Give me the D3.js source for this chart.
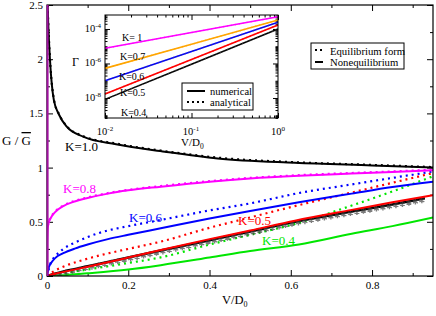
<!DOCTYPE html>
<html>
<head>
<meta charset="utf-8">
<script src="https://cdn.jsdelivr.net/npm/d3@7"></script>
<style>
  body { margin: 0; background: #fff; }
  svg text { font-family: "Liberation Serif", "Times New Roman", serif; }
  .axis path, .axis line { stroke: #000; }
</style>
</head>
<body>
<script>
var W = 436, H = 316;
var SERIF = '"Liberation Serif", "Times New Roman", serif';

// main panel: [V/D0, G/Gbar]
var k10Solid = [[0.0015,2.5],[0.003,2.33],[0.0074,1.99],[0.017,1.62],[0.03,1.485],[0.048,1.38],[0.089,1.285],[0.17,1.215],[0.29,1.147],[0.42,1.085],[0.61,1.045],[0.8,1.02],[0.95,1.0]];
var k10Dots  = [[0.0016,2.5],[0.003,2.34],[0.0074,2.0],[0.017,1.63],[0.03,1.49],[0.048,1.385],[0.089,1.29],[0.17,1.222],[0.29,1.152],[0.42,1.092],[0.61,1.05],[0.8,1.025],[0.95,1.005]];
var k08Solid = [[0,0],[0.0005,0.3],[0.002,0.45],[0.005,0.5],[0.01,0.54],[0.02,0.59],[0.04,0.645],[0.07,0.69],[0.1,0.72],[0.15,0.76],[0.2,0.79],[0.28,0.824],[0.4,0.87],[0.5,0.9],[0.62,0.925],[0.75,0.945],[0.85,0.96],[0.95,0.975]];
var k08Dots  = [[0.002,0.46],[0.005,0.505],[0.01,0.545],[0.02,0.595],[0.04,0.65],[0.07,0.695],[0.1,0.725],[0.15,0.765],[0.2,0.795],[0.28,0.83],[0.4,0.875],[0.5,0.905],[0.62,0.93],[0.75,0.95],[0.85,0.965],[0.95,0.98]];
var k06Solid = [[0,0],[0.005,0.085],[0.01,0.12],[0.02,0.165],[0.04,0.21],[0.07,0.255],[0.1,0.29],[0.15,0.34],[0.2,0.38],[0.28,0.44],[0.4,0.53],[0.5,0.6],[0.62,0.68],[0.75,0.76],[0.85,0.82],[0.95,0.87]];
var k06Dots  = [[0,0],[0.01,0.13],[0.02,0.18],[0.04,0.25],[0.07,0.31],[0.1,0.36],[0.15,0.42],[0.2,0.46],[0.28,0.517],[0.4,0.605],[0.5,0.67],[0.62,0.765],[0.75,0.845],[0.85,0.905],[0.95,0.965]];
var k05Solid = [[0,0],[0.02,0.02],[0.05,0.045],[0.1,0.085],[0.2,0.17],[0.28,0.24],[0.4,0.34],[0.5,0.42],[0.61,0.51],[0.75,0.61],[0.85,0.68],[0.95,0.745]];
var k05Dots  = [[0,0],[0.02,0.05],[0.05,0.1],[0.1,0.16],[0.13,0.19],[0.2,0.25],[0.28,0.317],[0.4,0.445],[0.5,0.54],[0.61,0.645],[0.75,0.77],[0.85,0.86],[0.95,0.95]];
var k05Stars = [[0,0],[0.05,0.05],[0.1,0.09],[0.2,0.17],[0.28,0.235],[0.4,0.33],[0.5,0.41],[0.61,0.5],[0.75,0.595],[0.85,0.66],[0.93,0.717]];
var k04Solid = [[0,0],[0.05,0.01],[0.1,0.025],[0.2,0.06],[0.28,0.1],[0.4,0.17],[0.5,0.23],[0.62,0.29],[0.75,0.39],[0.85,0.46],[0.95,0.54]];
var k04Dots  = [[0,0],[0.05,0.03],[0.1,0.06],[0.2,0.12],[0.28,0.172],[0.4,0.29],[0.5,0.38],[0.61,0.48],[0.75,0.65],[0.85,0.78],[0.95,0.92]];
var edgeLine = [[0,0],[0,2.5]];

var xTicks = [0, 0.2, 0.4, 0.6, 0.8];
var yTicks = [0, 0.5, 1, 1.5, 2, 2.5];

// inset: Gamma vs V/D0 (log-log, straight lines)
var insetV = [0.01, 0.1, 1];
var gammaK1  = [7.6e-6, 6.2e-5, 5.1e-4];
var gammaK07 = [5.2e-7, 1.3e-5, 3.3e-4];
var gammaK06 = [1.0e-7, 4.95e-6, 2.45e-4];
var gammaK05 = [1.7e-8, 1.7e-6, 1.7e-4];
var gammaK04 = [8.3e-9, 9.1e-7, 1.0e-4];
var insetXTicks = [0.01, 0.1, 1];
var insetYTicks = [1e-8, 1e-6, 1e-4];

var svg = d3.select('body').append('svg')
  .attr('width', W).attr('height', H)
  .attr('font-family', SERIF);

var x = d3.scaleLinear().domain([0, 0.95]).range([47, 433]);
var y = d3.scaleLinear().domain([0, 2.5]).range([276, 5]);

var line = d3.line().curve(d3.curveMonotoneX)
  .x(function(d){ return x(d[0]); }).y(function(d){ return y(d[1]); });

function minors(lo, hi, step) {
  var out = [];
  for (var v = lo; v <= hi + 1e-9; v += step) out.push(Math.round(v * 1000) / 1000);
  return out;
}
var xMinor = minors(0.1, 0.9, 0.2);
var yMinor = minors(0.25, 2.25, 0.5);

function drawAxis(axis, tx, ty, labels) {
  var g = svg.append('g').attr('class', 'axis').attr('transform', 'translate(' + tx + ',' + ty + ')').call(axis);
  g.attr('font-family', SERIF);
  g.select('.domain').remove();
  g.selectAll('text').style('font-size', '11px').style('font-family', SERIF).attr('fill', '#000');
  if (!labels) g.selectAll('text').remove();
  return g;
}
drawAxis(d3.axisBottom(x).tickValues(xTicks).tickSize(-6).tickPadding(5).tickFormat(function(d){ return d; }), 0, 276, true);
drawAxis(d3.axisBottom(x).tickValues(xMinor).tickSize(-3).tickFormat(''), 0, 276, false);
drawAxis(d3.axisTop(x).tickValues(xTicks).tickSize(-6), 0, 5, false);
drawAxis(d3.axisTop(x).tickValues(xMinor).tickSize(-3), 0, 5, false);
drawAxis(d3.axisLeft(y).tickValues(yTicks).tickSize(-6).tickPadding(4).tickFormat(function(d){ return d; }), 47, 0, true);
drawAxis(d3.axisLeft(y).tickValues(yMinor).tickSize(-3).tickFormat(''), 47, 0, false);
drawAxis(d3.axisRight(y).tickValues(yTicks).tickSize(-6), 433, 0, false);
drawAxis(d3.axisRight(y).tickValues(yMinor).tickSize(-3), 433, 0, false);

var plot = svg.append('g');
plot.append('clipPath').attr('id', 'clipMain').append('rect')
  .attr('x', 47).attr('y', 5).attr('width', 386).attr('height', 271);
var curves = plot.append('g').attr('clip-path', 'url(#clipMain)');

function solid(data, color, w) {
  curves.append('path').datum(data).attr('d', line)
    .attr('fill', 'none').attr('stroke', color).attr('stroke-width', w || 2);
}
function dotted(data, color) {
  curves.append('path').datum(data).attr('d', line)
    .attr('fill', 'none').attr('stroke', color).attr('stroke-width', 2.2)
    .attr('stroke-dasharray', '2,4');
}

solid(k04Solid, '#00e600');
dotted(k04Dots, '#00e600');

// black starred curve (nonequilibrium K=0.5)
var starPath = curves.append('path').datum(k05Stars).attr('d', line)
  .attr('fill', 'none').attr('stroke', '#000').attr('stroke-width', 2.5);
var len = starPath.node().getTotalLength();
var sym = d3.symbol().type(d3.symbolAsterisk || d3.symbolCross).size(22);
for (var s = 0; s <= len; s += 6.6) {
  var p = starPath.node().getPointAtLength(s);
  curves.append('path').attr('d', sym()).attr('transform', 'translate(' + p.x + ',' + (p.y + 1.5) + ')')
    .attr('fill', '#222').attr('stroke', '#444').attr('stroke-width', 1.4).attr('stroke-opacity', 0.7);
}

solid(k05Solid, '#ff0000');
dotted(k05Dots, '#ff0000');
solid(k06Solid, '#0000ff');
dotted(k06Dots, '#0000ff');
solid(k08Solid, '#ff00ff');
dotted(k08Dots, '#ff00ff');
solid(k10Solid, '#000');
dotted(k10Dots, '#000');

// frame
svg.append('rect').attr('x', 47).attr('y', 5).attr('width', 386).attr('height', 271)
  .attr('fill', 'none').attr('stroke', '#000').attr('stroke-width', 1.2);
svg.append('path').datum(edgeLine).attr('d', line)
  .attr('transform', 'translate(0.6,0)')
  .attr('fill', 'none').attr('stroke', '#a010a0').attr('stroke-width', 2);

// main labels
function label(txt, px, py, color, size) {
  return svg.append('text').attr('x', px).attr('y', py).attr('fill', color || '#000')
    .style('font-size', (size || 11) + 'px').text(txt);
}
label('K=1.0', 65, 151, '#000', 13);
label('K=0.8', 63, 193, '#ff00ff', 13);
label('K=0.6', 129, 222, '#0000ff', 13);
label('K=0.5', 238, 225, '#ff0000', 13);
label('K=0.4', 262, 245, '#00e600', 13);

var yl = svg.append('text').attr('x', 2).attr('y', 145).style('font-size', '13px');
yl.append('tspan').text('G / ');
yl.append('tspan').style('text-decoration', 'overline').text('G');

var xl = svg.append('text').attr('x', 222).attr('y', 304).style('font-size', '12.5px');
xl.append('tspan').text('V/D');
xl.append('tspan').attr('dy', 3).style('font-size', '8px').text('0');

// main legend
var lg = svg.append('g');
lg.append('rect').attr('x', 311).attr('y', 43).attr('width', 93).attr('height', 26)
  .attr('fill', '#fff').attr('stroke', '#000').attr('stroke-width', 1);
lg.append('line').attr('x1', 315).attr('x2', 325).attr('y1', 50).attr('y2', 50)
  .attr('stroke', '#000').attr('stroke-width', 2).attr('stroke-dasharray', '2,3');
lg.append('line').attr('x1', 315).attr('x2', 323).attr('y1', 62).attr('y2', 62)
  .attr('stroke', '#000').attr('stroke-width', 2);
lg.append('text').attr('x', 330).attr('y', 55).style('font-size', '10.7px').text('Equilibrium form');
lg.append('text').attr('x', 330).attr('y', 65.5).style('font-size', '10.7px').text('Nonequilibrium');

// ---- inset ----
var ix = d3.scaleLog().domain([0.01, 1]).range([105, 278]);
var iy = d3.scaleLog().domain([Math.pow(10, -9.16), Math.pow(10, -3.19)]).range([118, 15]);
var inset = svg.append('g');
inset.append('rect').attr('x', 105).attr('y', 15).attr('width', 173).attr('height', 103)
  .attr('fill', '#fff');

var ixMinor = [], iyMinor = [];
[0.01, 0.1].forEach(function(b){ for (var k = 2; k <= 9; k++) ixMinor.push(b * k); });
for (var e = -10; e <= -3; e++) {
  for (var k = 1; k <= 9; k++) {
    var v = k * Math.pow(10, e);
    if (v > iy.domain()[0] && v < iy.domain()[1] && insetYTicks.indexOf(v) < 0) iyMinor.push(v);
  }
}

function insetAxis(axis, tx, ty) {
  var g = inset.append('g').attr('class', 'axis').attr('transform', 'translate(' + tx + ',' + ty + ')').call(axis);
  g.select('.domain').remove();
  g.selectAll('text').remove();
}
insetAxis(d3.axisBottom(ix).tickValues(insetXTicks).tickSize(-5), 0, 118);
insetAxis(d3.axisBottom(ix).tickValues(ixMinor).tickSize(-2.5), 0, 118);
insetAxis(d3.axisTop(ix).tickValues(insetXTicks).tickSize(-5), 0, 15);
insetAxis(d3.axisTop(ix).tickValues(ixMinor).tickSize(-2.5), 0, 15);
insetAxis(d3.axisLeft(iy).tickValues(insetYTicks).tickSize(-5), 105, 0);
insetAxis(d3.axisLeft(iy).tickValues(iyMinor).tickSize(-2.5), 105, 0);
insetAxis(d3.axisRight(iy).tickValues(insetYTicks).tickSize(-5), 278, 0);
insetAxis(d3.axisRight(iy).tickValues(iyMinor).tickSize(-2.5), 278, 0);

var iline = d3.line().x(function(d){ return ix(d[0]); }).y(function(d){ return iy(d[1]); });
function zip(a, b) { return a.map(function(v, i){ return [v, b[i]]; }); }
[[gammaK1, '#ff00ff'], [gammaK07, '#ffa500'], [gammaK06, '#0000ff'], [gammaK05, '#ff0000'], [gammaK04, '#000']]
  .forEach(function(s) {
    inset.append('path').datum(zip(insetV, s[0])).attr('d', iline)
      .attr('fill', 'none').attr('stroke', s[1]).attr('stroke-width', 1.6);
    inset.append('path').datum(zip(insetV, s[0])).attr('d', iline)
      .attr('fill', 'none').attr('stroke', s[1] === '#000' || s[1] === '#0000ff' ? '#555' : s[1])
      .attr('stroke-width', 1.6).attr('stroke-dasharray', '1,3').attr('stroke-opacity', 0.6);
  });

inset.append('rect').attr('x', 105).attr('y', 15).attr('width', 173).attr('height', 103)
  .attr('fill', 'none').attr('stroke', '#000').attr('stroke-width', 1);

function powLabel(px, py, exp, anchor) {
  var t = inset.append('text').attr('x', px).attr('y', py).attr('text-anchor', anchor).style('font-size', '10.5px');
  t.append('tspan').text('10');
  t.append('tspan').attr('dy', -4).style('font-size', '7px').text(exp);
}
powLabel(105, 135, '-2', 'middle');
powLabel(191, 135, '-1', 'middle');
powLabel(278, 135, '0', 'middle');
insetYTicks.forEach(function(v) {
  powLabel(101, iy(v) + 3, String(Math.round(Math.log10(v))), 'end');
});
inset.append('text').attr('x', 72).attr('y', 66).style('font-size', '12px').text('Γ');
var ixl = inset.append('text').attr('x', 181).attr('y', 146).style('font-size', '11px');
ixl.append('tspan').text('V/D');
ixl.append('tspan').attr('dy', 3).style('font-size', '7.5px').text('0');

[['K= 1', 122, 41], ['K=0.7', 120, 60], ['K=0.6', 119, 80], ['K=0.5', 120, 96], ['K=0.4', 121, 116]]
  .forEach(function(l) {
    inset.append('text').attr('x', l[1]).attr('y', l[2]).style('font-size', '10px').text(l[0]);
  });

// inset legend
var il = inset.append('g');
il.append('rect').attr('x', 182).attr('y', 83).attr('width', 71).attr('height', 27)
  .attr('fill', '#fff').attr('stroke', '#000').attr('stroke-width', 1);
il.append('line').attr('x1', 187).attr('x2', 205).attr('y1', 91).attr('y2', 91)
  .attr('stroke', '#000').attr('stroke-width', 2);
il.append('line').attr('x1', 187).attr('x2', 205).attr('y1', 102).attr('y2', 102)
  .attr('stroke', '#000').attr('stroke-width', 2).attr('stroke-dasharray', '2,3');
il.append('text').attr('x', 210).attr('y', 94.5).style('font-size', '10.5px').text('numerical');
il.append('text').attr('x', 210).attr('y', 105.5).style('font-size', '10.5px').text('analytical');
</script>
</body>
</html>
